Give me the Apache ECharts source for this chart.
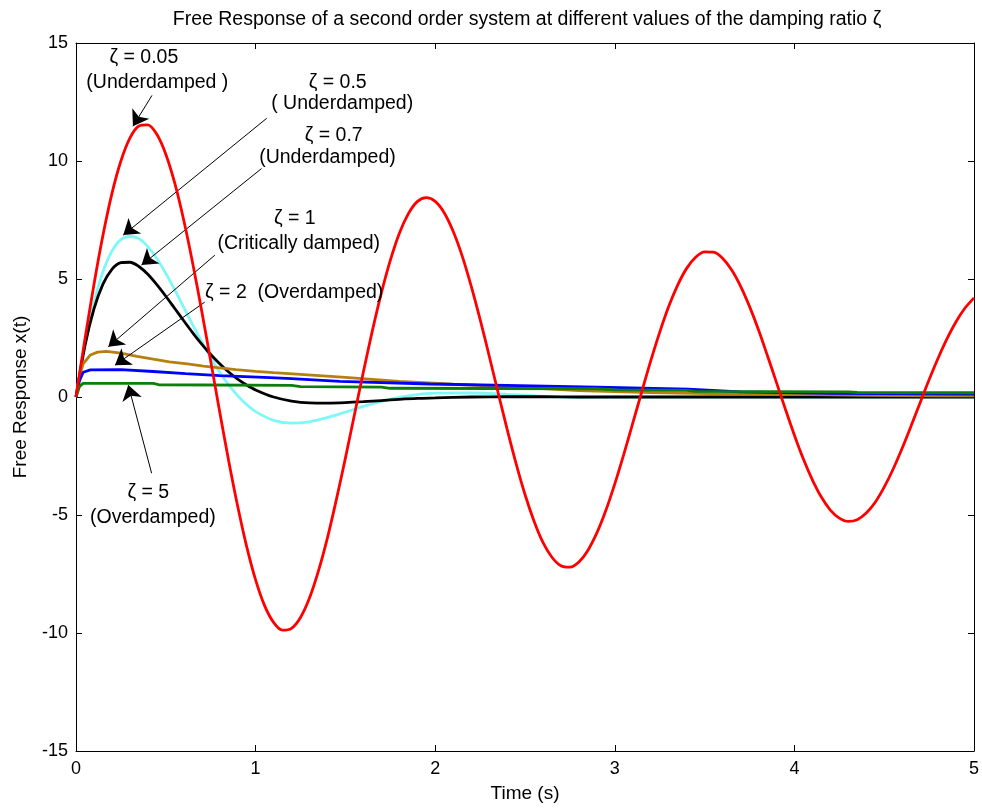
<!DOCTYPE html>
<html>
<head>
<meta charset="utf-8">
<script src="https://cdn.jsdelivr.net/npm/echarts@6/dist/echarts.min.js"></script>
<style>
  html, body { margin: 0; padding: 0; background: #ffffff; }
  #chart { width: 982px; height: 808px; }
</style>
</head>
<body>
<div id="chart"></div>
<script>
// Free response x(t) of a second order system for several damping ratios.

// zeta = 0.05, sampled every 0.05 s
const timeFine = [
  0.00, 0.05, 0.10, 0.15, 0.20, 0.25, 0.30, 0.35, 0.40, 0.45,
  0.50, 0.55, 0.60, 0.65, 0.70, 0.75, 0.80, 0.85, 0.90, 0.95,
  1.00, 1.05, 1.10, 1.15, 1.20, 1.25, 1.30, 1.35, 1.40, 1.45,
  1.50, 1.55, 1.60, 1.65, 1.70, 1.75, 1.80, 1.85, 1.90, 1.95,
  2.00, 2.05, 2.10, 2.15, 2.20, 2.25, 2.30, 2.35, 2.40, 2.45,
  2.50, 2.55, 2.60, 2.65, 2.70, 2.75, 2.80, 2.85, 2.90, 2.95,
  3.00, 3.05, 3.10, 3.15, 3.20, 3.25, 3.30, 3.35, 3.40, 3.45,
  3.50, 3.55, 3.60, 3.65, 3.70, 3.75, 3.80, 3.85, 3.90, 3.95,
  4.00, 4.05, 4.10, 4.15, 4.20, 4.25, 4.30, 4.35, 4.40, 4.45,
  4.50, 4.55, 4.60, 4.65, 4.70, 4.75, 4.80, 4.85, 4.90, 4.95, 5.00
];
const zeta005 = [
  0, 2.46, 4.77, 6.85, 8.62, 10.00, 10.97, 11.48, 11.53, 11.13,
  10.29, 9.06, 7.49, 5.66, 3.64, 1.52, -0.62, -2.70, -4.62, -6.33,
  -7.75, -8.84, -9.55, -9.88, -9.80, -9.34, -8.52, -7.37, -5.97, -4.34,
  -2.59, -0.76, 1.06, 2.80, 4.40, 5.79, 6.93, 7.76, 8.28, 8.45,
  8.29, 7.81, 7.02, 5.98, 4.71, 3.29, 1.76, 0.19, -1.35, -2.81,
  -4.13, -5.25, -6.16, -6.79, -7.15, -7.21, -6.99, -6.50, -5.76, -4.81,
  -3.68, -2.43, -1.11, 0.22, 1.53, 2.74, 3.83, 4.74, 5.45, 5.92,
  6.15, 6.14, 5.88, 5.39, 4.70, 3.84, 2.85, 1.75, 0.62, -0.52,
  -1.62, -2.63, -3.51, -4.24, -4.79, -5.13, -5.27, -5.20, -4.92, -4.46,
  -3.82, -3.05, -2.17, -1.22, -0.24, 0.73, 1.64, 2.47, 3.19, 3.77, 4.20
];

// zeta = 0.5 and zeta = 0.7
const timeMid = [
  0.00, 0.05, 0.10, 0.15, 0.20, 0.25, 0.30, 0.35, 0.40, 0.45,
  0.50, 0.55, 0.60, 0.65, 0.70, 0.75, 0.80, 0.85, 0.90, 0.95,
  1.00, 1.10, 1.20, 1.30, 1.40, 1.50, 1.60, 1.70, 1.80, 1.90,
  2.00, 2.20, 2.40, 2.60, 2.80, 3.00, 3.50, 4.00, 4.50, 5.00
];
const zeta05 = [
  0, 2.25, 4.01, 5.31, 6.18, 6.67, 6.80, 6.71, 6.37, 5.87,
  5.24, 4.54, 3.80, 3.06, 2.34, 1.66, 1.05, 0.51, 0.06, -0.32,
  -0.62, -0.99, -1.11, -1.05, -0.87, -0.64, -0.40, -0.19, -0.02, 0.10,
  0.16, 0.17, 0.11, 0.03, -0.01, 0, 0, 0, 0, 0
];
const zeta07 = [
  0, 2.17, 3.73, 4.78, 5.41, 5.69, 5.71, 5.53, 5.20, 4.76,
  4.27, 3.75, 3.23, 2.72, 2.24, 1.80, 1.41, 1.06, 0.76, 0.51,
  0.30, 0.00, -0.17, -0.25, -0.26, -0.24, -0.20, -0.15, -0.10, -0.06,
  -0.04, 0, 0.01, 0.01, 0, 0, 0, 0, 0, 0
];

// zeta = 1
const timeZ1 = [0, 0.02, 0.04, 0.08, 0.12, 0.17, 0.25, 0.34, 0.43, 0.52, 0.62, 0.71, 0.80, 0.89, 1.00, 1.10, 1.25, 1.50, 1.80, 2.10, 2.40, 2.80, 3.20, 3.60, 4.00, 4.40, 4.80, 5.00];
const zeta1 = [0, 0.90, 1.40, 1.78, 1.90, 1.93, 1.86, 1.72, 1.60, 1.49, 1.40, 1.31, 1.23, 1.16, 1.09, 1.03, 0.96, 0.83, 0.66, 0.54, 0.44, 0.27, 0.19, 0.13, 0.11, 0.07, 0.05, 0.05];

// zeta = 2
const timeZ2 = [0, 0.02, 0.04, 0.08, 0.25, 0.43, 0.61, 0.80, 1.08, 1.20, 1.47, 1.97, 2.47, 2.97, 3.41, 3.70, 4.20, 4.70, 5.00];
const zeta2 = [0, 0.70, 1.05, 1.15, 1.16, 1.08, 0.99, 0.91, 0.82, 0.78, 0.66, 0.55, 0.48, 0.41, 0.33, 0.22, 0.15, 0.13, 0.12];

// zeta = 5
const timeZ5 = [0, 0.02, 0.04, 0.43, 0.46, 1.20, 1.25, 1.70, 1.75, 2.90, 3.00, 3.40, 3.45, 4.30, 4.35, 5.00];
const zeta5 = [0, 0.45, 0.58, 0.58, 0.52, 0.49, 0.44, 0.42, 0.37, 0.35, 0.30, 0.28, 0.24, 0.22, 0.19, 0.18];

// axis ticks
const xTicks = [0, 1, 2, 3, 4, 5];
const yTicks = [-15, -10, -5, 0, 5, 10, 15];

// annotation texts, anchored at (time, response)
const noteText = ['ζ = 0.05', '(Underdamped )', 'ζ = 0.5', '( Underdamped)', 'ζ = 0.7', '(Underdamped)', 'ζ = 1', '(Critically damped)', 'ζ = 2  (Overdamped)', 'ζ = 5', '(Overdamped)'];
const noteT = [0.378, 0.453, 1.457, 1.482, 1.435, 1.400, 1.218, 1.240, 1.215, 0.403, 0.428];
const noteV = [14.39, 13.33, 13.33, 12.44, 11.09, 10.16, 7.57, 6.52, 4.44, -4.06, -5.12];

// arrows: tail -> head
const arrowFromT = [0.423, 1.062, 1.033, 0.773, 0.717, 0.421];
const arrowFromV = [12.78, 11.81, 9.68, 6.01, 4.02, -3.23];
const arrowToT = [0.317, 0.263, 0.365, 0.180, 0.217, 0.291];
const arrowToV = [11.47, 6.86, 5.59, 2.13, 1.35, 0.51];

const FONT = '"Liberation Sans", Arial, Helvetica, sans-serif';
const pairs = (ts, vs) => ts.map((t, i) => [t, vs[i]]);

const chart = echarts.init(document.getElementById('chart'), null, { renderer: 'canvas' });

function axisBase(extra) {
  return Object.assign({
    type: 'value',
    axisLine: { show: true, onZero: false, lineStyle: { color: '#000', width: 1 } },
    axisTick: { show: true, inside: true, length: 6, lineStyle: { color: '#000', width: 1 } },
    splitLine: { show: false },
    axisLabel: { color: '#000', fontFamily: FONT, fontSize: 18 }
  }, extra);
}

const lineSeries = (name, data, color, z, smooth) => ({
  name, type: 'line', data, showSymbol: false, symbol: 'none', smooth: smooth || false,
  lineStyle: { color, width: 2.8 }, itemStyle: { color }, z,
  animation: false, silent: true
});

const option = {
  animation: false,
  backgroundColor: '#ffffff',
  grid: { left: 76, right: 7, top: 43, bottom: 56, containLabel: false },
  xAxis: [
    axisBase({
      min: xTicks[0], max: xTicks[xTicks.length - 1], interval: 1, position: 'bottom',
      name: 'Time (s)', nameLocation: 'middle', nameGap: 33,
      nameTextStyle: { color: '#000', fontFamily: FONT, fontSize: 19 },
      axisLabel: { color: '#000', fontFamily: FONT, fontSize: 18, margin: 9 }
    }),
    axisBase({
      min: xTicks[0], max: xTicks[xTicks.length - 1], interval: 1, position: 'top',
      axisLabel: { show: false }
    })
  ],
  yAxis: [
    axisBase({
      min: yTicks[0], max: yTicks[yTicks.length - 1], interval: 5, position: 'left',
      name: 'Free Response x(t)', nameLocation: 'middle', nameGap: 46,
      nameTextStyle: { color: '#000', fontFamily: FONT, fontSize: 19 },
      axisLabel: { color: '#000', fontFamily: FONT, fontSize: 18, margin: 8 }
    }),
    axisBase({
      min: yTicks[0], max: yTicks[yTicks.length - 1], interval: 5, position: 'right',
      axisLabel: { show: false }
    })
  ],
  graphic: [{
    type: 'text', x: 527, y: 20,
    style: {
      text: 'Free Response of a second order system at different values of the damping ratio ζ',
      fill: '#000', font: '19.5px ' + FONT, textAlign: 'center', textVerticalAlign: 'middle'
    }
  }],
  series: [
    lineSeries('ζ = 0.5', pairs(timeMid, zeta05), '#7ef7f7', 2, 0.3),
    lineSeries('ζ = 0.7', pairs(timeMid, zeta07), '#000000', 3, 0.3),
    lineSeries('ζ = 1', pairs(timeZ1, zeta1), '#b5800f', 4),
    lineSeries('ζ = 2', pairs(timeZ2, zeta2), '#0000ff', 5),
    lineSeries('ζ = 5', pairs(timeZ5, zeta5), '#0b7f0b', 6),
    lineSeries('ζ = 0.05', pairs(timeFine, zeta005), '#ff0000', 7, 0.3),
    {
      name: 'notes', type: 'scatter', symbolSize: 0, z: 10, silent: true,
      itemStyle: { opacity: 1, color: '#000' },
      data: noteText.map((s, i) => [noteT[i], noteV[i], s]),
      label: {
        show: true, position: 'inside', color: '#000', fontFamily: FONT, fontSize: 19.5,
        textBorderWidth: 0, opacity: 1, formatter: p => p.data[2]
      }
    },
    {
      name: 'arrows', type: 'line', data: [], z: 11, silent: true,
      markLine: {
        silent: true, animation: false,
        symbol: ['none', 'arrow'], symbolSize: [1, 15],
        label: { show: false },
        lineStyle: { color: '#000', width: 1, type: 'solid' },
        itemStyle: { color: '#000' },
        emphasis: { disabled: true },
        data: arrowFromT.map((t, i) => [
          { coord: [t, arrowFromV[i]], symbol: 'none' },
          { coord: [arrowToT[i], arrowToV[i]], symbol: 'arrow', symbolSize: 15 }
        ])
      }
    }
  ]
};

chart.setOption(option);
</script>
</body>
</html>
